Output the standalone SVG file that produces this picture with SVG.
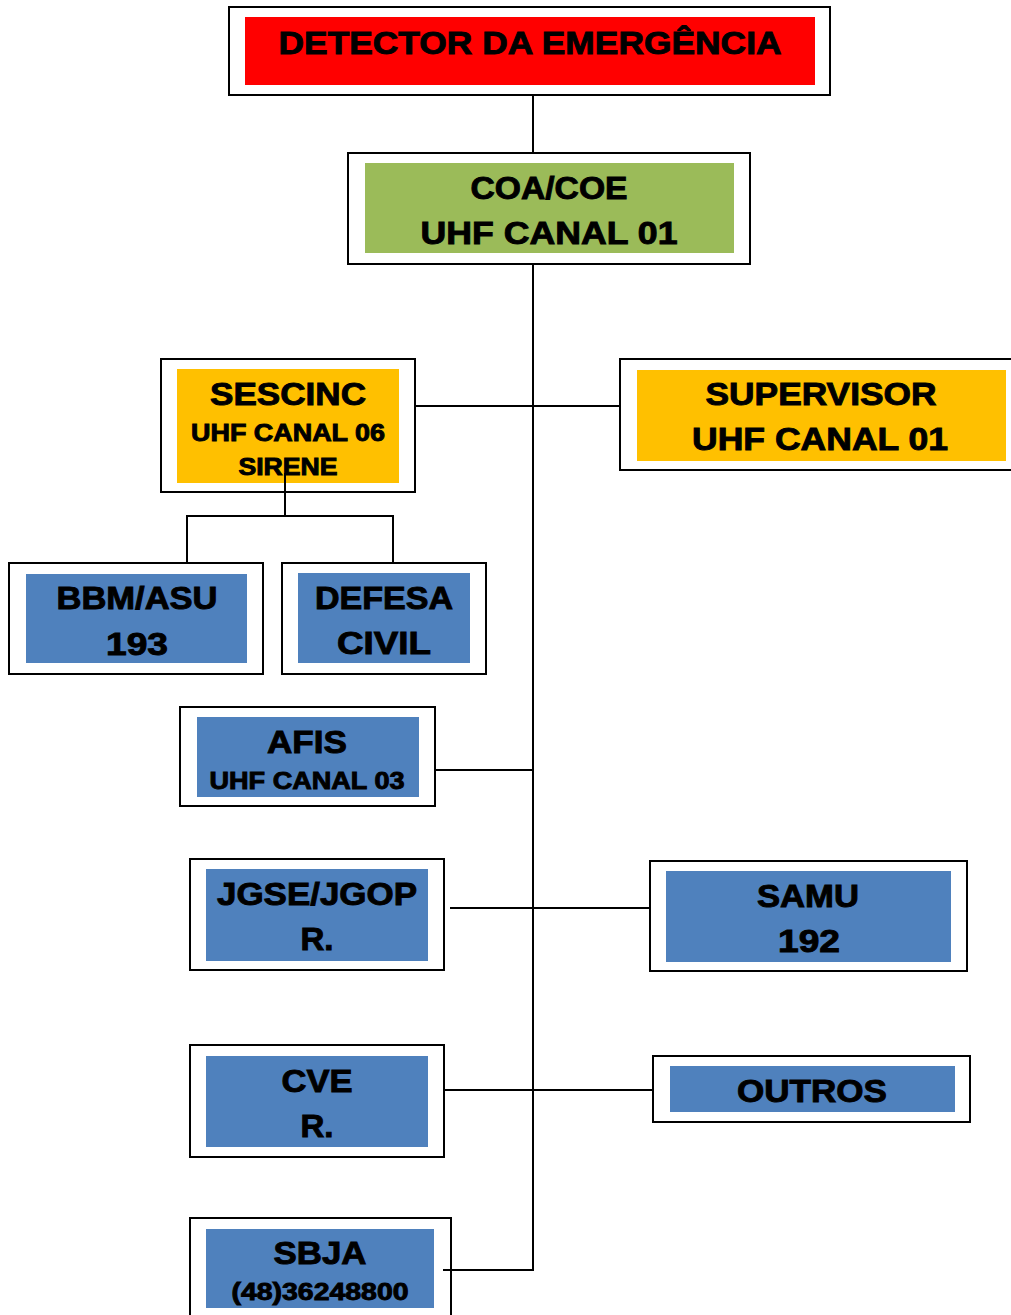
<svg xmlns="http://www.w3.org/2000/svg" width="1011" height="1315" viewBox="0 0 1011 1315">
<style>
.outer{fill:#fff;stroke:#000;stroke-width:2}
.red{fill:#ff0000}.green{fill:#9bbb59}.orange{fill:#ffc000}.blue{fill:#4f81bd}
text{font-family:"Liberation Sans",Arial,sans-serif;font-weight:bold;fill:#000;stroke:#000;stroke-width:0.9;text-anchor:middle}
.big{font-size:31px}.small{font-size:23px}
.conn line{stroke:#000;stroke-width:2}
</style>
<rect width="1011" height="1315" fill="#fff"/>
<g class="conn">
<line x1="533" y1="95" x2="533" y2="153"/>
<line x1="533" y1="264" x2="533" y2="1271"/>
<line x1="415" y1="406" x2="620" y2="406"/>
<line x1="435" y1="770" x2="533" y2="770"/>
<line x1="450" y1="908" x2="650" y2="908"/>
<line x1="444" y1="1090" x2="653" y2="1090"/>
<line x1="443" y1="1270" x2="534" y2="1270"/>
</g>
<g id="detector">
<rect class="outer" x="229" y="7" width="601" height="88"/>
<rect class="red" x="245" y="17" width="570" height="68"/>
<text class="big" x="530" y="54" textLength="503" lengthAdjust="spacingAndGlyphs">DETECTOR DA EMERGÊNCIA</text>
</g>
<g id="coa">
<rect class="outer" x="348" y="153" width="402" height="111"/>
<rect class="green" x="365" y="163" width="369" height="90"/>
<text class="big" x="549" y="199" textLength="157" lengthAdjust="spacingAndGlyphs">COA/COE</text>
<text class="big" x="549" y="244" textLength="257" lengthAdjust="spacingAndGlyphs">UHF CANAL 01</text>
</g>
<g id="sescinc">
<rect class="outer" x="161" y="359" width="254" height="133"/>
<rect class="orange" x="177" y="369" width="222" height="114"/>
<text class="big" x="288" y="405" textLength="156" lengthAdjust="spacingAndGlyphs">SESCINC</text>
<text class="small" x="288" y="441" textLength="194" lengthAdjust="spacingAndGlyphs">UHF CANAL 06</text>
<text class="small" x="288" y="475" textLength="99" lengthAdjust="spacingAndGlyphs">SIRENE</text>
</g>
<g class="conn">
<line x1="285" y1="473" x2="285" y2="516"/>
<line x1="186" y1="516" x2="394" y2="516"/>
<line x1="187" y1="516" x2="187" y2="563"/>
<line x1="393" y1="516" x2="393" y2="563"/>
</g>
<g id="supervisor">
<rect class="outer" x="620" y="359" width="400" height="111"/>
<rect class="orange" x="637" y="370" width="369" height="91"/>
<text class="big" x="821" y="405" textLength="231" lengthAdjust="spacingAndGlyphs">SUPERVISOR</text>
<text class="big" x="820" y="450" textLength="256" lengthAdjust="spacingAndGlyphs">UHF CANAL 01</text>
</g>
<g id="bbm">
<rect class="outer" x="9" y="563" width="254" height="111"/>
<rect class="blue" x="26" y="574" width="221" height="89"/>
<text class="big" x="137" y="609" textLength="161" lengthAdjust="spacingAndGlyphs">BBM/ASU</text>
<text class="big" x="137" y="655" textLength="62" lengthAdjust="spacingAndGlyphs">193</text>
</g>
<g id="defesa">
<rect class="outer" x="282" y="563" width="204" height="111"/>
<rect class="blue" x="298" y="573" width="172" height="90"/>
<text class="big" x="384" y="609" textLength="138" lengthAdjust="spacingAndGlyphs">DEFESA</text>
<text class="big" x="384" y="654" textLength="94" lengthAdjust="spacingAndGlyphs">CIVIL</text>
</g>
<g id="afis">
<rect class="outer" x="180" y="707" width="255" height="99"/>
<rect class="blue" x="197" y="717" width="222" height="80"/>
<text class="big" x="307" y="753" textLength="80" lengthAdjust="spacingAndGlyphs">AFIS</text>
<text class="small" x="307" y="789" textLength="195" lengthAdjust="spacingAndGlyphs">UHF CANAL 03</text>
</g>
<g id="jgse">
<rect class="outer" x="190" y="859" width="254" height="111"/>
<rect class="blue" x="206" y="869" width="222" height="92"/>
<text class="big" x="317" y="905" textLength="200" lengthAdjust="spacingAndGlyphs">JGSE/JGOP</text>
<text class="big" x="317" y="950" textLength="33" lengthAdjust="spacingAndGlyphs">R.</text>
</g>
<g id="samu">
<rect class="outer" x="650" y="861" width="317" height="110"/>
<rect class="blue" x="666" y="871" width="285" height="91"/>
<text class="big" x="808" y="907" textLength="102" lengthAdjust="spacingAndGlyphs">SAMU</text>
<text class="big" x="809" y="952" textLength="62" lengthAdjust="spacingAndGlyphs">192</text>
</g>
<g id="cve">
<rect class="outer" x="190" y="1045" width="254" height="112"/>
<rect class="blue" x="206" y="1056" width="222" height="91"/>
<text class="big" x="317" y="1092" textLength="71" lengthAdjust="spacingAndGlyphs">CVE</text>
<text class="big" x="317" y="1137" textLength="33" lengthAdjust="spacingAndGlyphs">R.</text>
</g>
<g id="outros">
<rect class="outer" x="653" y="1056" width="317" height="66"/>
<rect class="blue" x="670" y="1066" width="285" height="46"/>
<text class="big" x="812" y="1102" textLength="150" lengthAdjust="spacingAndGlyphs">OUTROS</text>
</g>
<g id="sbja">
<rect class="outer" x="190" y="1218" width="261" height="110"/>
<rect class="blue" x="206" y="1229" width="228" height="79"/>
<text class="big" x="320" y="1264" textLength="93" lengthAdjust="spacingAndGlyphs">SBJA</text>
<text class="small" x="320" y="1300" textLength="177" lengthAdjust="spacingAndGlyphs">(48)36248800</text>
</g>
<g class="conn">
<line x1="443" y1="1270" x2="452" y2="1270"/>
</g>
</svg>
